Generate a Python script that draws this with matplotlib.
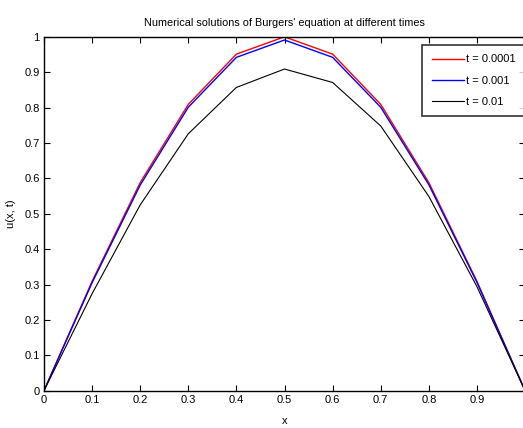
import matplotlib
matplotlib.use('Agg')
import matplotlib.pyplot as plt

plt.rcParams['font.family'] = ['Liberation Sans', 'DejaVu Sans']

x = [0, 0.1, 0.2, 0.3, 0.4, 0.5, 0.6, 0.7, 0.8, 0.9, 1.0]
u_t1 = [0, 0.309, 0.588, 0.809, 0.951, 1.0, 0.951, 0.809, 0.588, 0.309, 0]
u_t2 = [0, 0.305, 0.581, 0.801, 0.942, 0.991, 0.942, 0.801, 0.582, 0.306, 0]
u_t3 = [0, 0.274, 0.525, 0.726, 0.857, 0.909, 0.871, 0.748, 0.549, 0.294, 0]
labels = ['t = 0.0001', 't = 0.001', 't = 0.01']

fig = plt.figure(figsize=(5.23, 4.28), dpi=100)
ax = fig.add_axes([0.084, 0.087, 0.920, 0.827])

ax.plot(x, u_t1, color='red', lw=1.0, label=labels[0])
ax.plot(x, u_t2, color='blue', lw=1.0, label=labels[1])
ax.plot(x, u_t3, color='black', lw=0.8, label=labels[2])

ax.set_xlim(0, 1)
ax.set_ylim(0, 1)
ax.set_xticks([0, 0.1, 0.2, 0.3, 0.4, 0.5, 0.6, 0.7, 0.8, 0.9])
ax.set_xticklabels(['0', '0.1', '0.2', '0.3', '0.4', '0.5', '0.6', '0.7', '0.8', '0.9'])
ax.set_yticks([0, 0.1, 0.2, 0.3, 0.4, 0.5, 0.6, 0.7, 0.8, 0.9, 1.0])
ax.set_yticklabels(['0', '0.1', '0.2', '0.3', '0.4', '0.5', '0.6', '0.7', '0.8', '0.9', '1'])
ax.tick_params(direction='in', top=True, right=True, length=4, width=0.8,
               labelsize=8, pad=3)
for s in ax.spines.values():
    s.set_linewidth(1.0)

ax.set_title("Numerical solutions of Burgers' equation at different times",
             fontsize=7.8, pad=8)
ax.set_xlabel('x', fontsize=8, labelpad=8)
ax.set_ylabel('u(x, t)', fontsize=8, labelpad=6)

leg = ax.legend(loc='upper right', bbox_to_anchor=(1.0, 0.977), fontsize=8,
                frameon=True, fancybox=False, edgecolor='black',
                handlelength=2.9, borderpad=0.85, labelspacing=1.0,
                handletextpad=0.2, borderaxespad=0.0)
leg.get_frame().set_linewidth(1.2)

fig.savefig('out.png', dpi=100)
